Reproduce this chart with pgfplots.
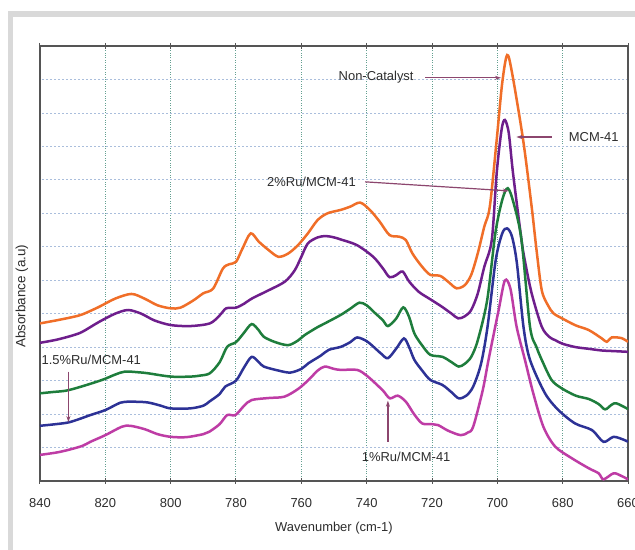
\documentclass[border=0pt]{standalone}
\usepackage{fontspec}
\setmainfont{Liberation Sans}
\usepackage{pgfplots}
\pgfplotsset{compat=1.18}
\usetikzlibrary{arrows.meta}
\definecolor{cOrange}{RGB}{240,110,40}
\definecolor{cPurple}{RGB}{110,30,140}
\definecolor{cGreen}{RGB}{30,125,60}
\definecolor{cBlue}{RGB}{45,50,150}
\definecolor{cMagenta}{RGB}{190,60,165}
\definecolor{cArrow}{RGB}{140,70,110}
\definecolor{cFrame}{RGB}{217,217,217}
\definecolor{cAxis}{RGB}{85,85,85}
\definecolor{cText}{RGB}{45,45,45}
\definecolor{cVGrid}{RGB}{100,160,145}
\definecolor{cHGrid}{RGB}{170,190,220}
\begin{document}
\begin{tikzpicture}[x=1bp,y=1bp]
\fill[cFrame] (-32,-69) rectangle (595,470);
\fill[white] (-27,-69) rectangle (595,464);
\begin{axis}[
  at={(0,0)}, anchor=south west,
  scale only axis, width=588bp, height=435bp,
  x dir=reverse, xmin=660, xmax=840, ymin=0, ymax=13,
  xtick={660,680,...,840}, ytick={1,2,...,12}, yticklabels={},
  ytick style={draw=none},
  xtick style={draw=cAxis, line width=1bp},
  tick align=center, major tick length=6bp,
  grid=major,
  x grid style={cVGrid, dotted, line width=1bp},
  y grid style={cHGrid, dash pattern=on 2bp off 2bp, line width=0.8bp},
  axis line style={cAxis, line width=1.6bp},
  /pgf/number format/assume math mode=true,
  xticklabel style={font=\fontsize{13}{15}\selectfont, text=cText, yshift=-11bp},
  xlabel={Wavenumber (cm-1)},
  ylabel={Absorbance (a.u)},
  xlabel style={font=\fontsize{13}{15}\selectfont, text=cText, at={(axis description cs:0.5,0)}, anchor=center, yshift=-47bp},
  ylabel style={font=\fontsize{13.5}{15}\selectfont, text=cText, at={([xshift=-18bp]axis description cs:0,0.425)}, anchor=center},
  clip=true,
  every axis plot/.append style={line width=2.5bp, smooth, tension=0.5, no markers},
]
% Non-Catalyst
\addplot[cOrange] coordinates {
(840,4.71)(835,4.80)(830,4.90)(827,4.98)(822,5.20)(817,5.45)(812,5.59)(808,5.45)(804,5.25)(800,5.16)(797,5.18)(793,5.40)(790,5.61)(787,5.75)(784,6.35)(782,6.48)(780,6.55)(778,6.95)(775.5,7.40)(773,7.15)(770,6.90)(767,6.70)(764,6.80)(761,7.05)(758,7.40)(755,7.80)(752,8.00)(748,8.10)(745,8.20)(742,8.32)(739,8.10)(736,7.75)(733,7.35)(730,7.30)(728,7.20)(726,6.80)(723,6.40)(720.5,6.16)(717.5,6.13)(715,5.95)(712.5,5.76)(710,5.85)(708,6.16)(706,6.80)(704,7.60)(702.3,8.20)(700.2,10.19)(698.5,11.9)(697,12.73)(695.5,12.2)(692.1,10.19)(689.5,8.20)(688,6.9)(686.4,5.7)(684.5,5.25)(682.8,5.01)(680,4.85)(676,4.65)(672,4.51)(668,4.26)(666.5,4.16)(665,4.29)(662,4.27)(660,4.16)};
% MCM-41
\addplot[cPurple] coordinates {
(840,4.13)(835,4.22)(830,4.35)(827,4.46)(822,4.75)(817,5.00)(813,5.11)(809,5.00)(805,4.80)(800,4.66)(794,4.63)(788,4.71)(785,4.95)(783,5.16)(780,5.18)(777.5,5.30)(775,5.46)(770,5.70)(765,5.96)(762,6.30)(760,6.70)(758,7.10)(755,7.28)(752.5,7.32)(750,7.28)(748,7.22)(743,7.05)(738,6.70)(735,6.35)(733,6.09)(731,6.15)(729,6.26)(727,5.96)(724,5.65)(720.5,5.43)(717,5.21)(714,5.00)(712,4.86)(710,4.92)(708,5.11)(706,5.60)(704,6.40)(701.7,7.20)(700.2,9.20)(698.7,10.5)(697.7,10.79)(696.5,10.4)(695.2,9.20)(692.6,7.20)(691.6,6.60)(689.5,5.61)(686.4,4.61)(684,4.30)(682.3,4.21)(680,4.10)(676,4.00)(672,3.95)(668,3.90)(664,3.88)(660,3.86)};
% 2%Ru/MCM-41
\addplot[cGreen] coordinates {
(840,2.62)(836,2.66)(832,2.70)(827.4,2.82)(821,3.02)(817,3.18)(814,3.27)(810,3.25)(807,3.22)(800,3.12)(794,3.12)(791,3.15)(788,3.22)(785,3.55)(782.7,4.01)(780,4.15)(777.7,4.41)(775.2,4.69)(773,4.50)(771.5,4.31)(768,4.15)(764,4.06)(761,4.20)(759,4.36)(755,4.60)(752.8,4.71)(748,4.96)(745,5.15)(742.2,5.33)(740,5.25)(737.9,5.06)(735,4.80)(733.5,4.63)(731,4.85)(728.8,5.19)(727,4.90)(725.4,4.41)(723,4.05)(720.5,3.77)(716.8,3.71)(714,3.55)(711.8,3.42)(710,3.50)(708,3.71)(706,4.20)(703.1,5.41)(700.6,7.41)(698.5,8.40)(696.8,8.75)(695,8.30)(692.6,7.20)(690,4.61)(688,4.0)(686.4,3.62)(683.4,3.02)(680.3,2.77)(676,2.55)(672,2.45)(669,2.30)(667,2.14)(665,2.28)(663.5,2.32)(660,2.15)};
% 1.5%Ru/MCM-41
\addplot[cBlue] coordinates {
(840,1.65)(835,1.70)(831.3,1.75)(828,1.85)(824.6,1.97)(820,2.12)(815.4,2.34)(812.4,2.37)(807.2,2.35)(803,2.25)(800,2.17)(794,2.17)(790,2.25)(788.2,2.37)(785,2.60)(783.3,2.82)(780,3.00)(777.5,3.40)(775.2,3.71)(773,3.55)(771.5,3.42)(767,3.30)(763.4,3.24)(760,3.35)(757.8,3.52)(754,3.75)(751.6,3.92)(747.9,4.01)(745,4.15)(742.9,4.29)(740,4.18)(737.9,4.01)(735.5,3.80)(733.5,3.67)(731,3.95)(728.6,4.26)(727,4.00)(725.4,3.62)(723,3.30)(720.5,3.02)(716.8,2.87)(714,2.65)(711.8,2.47)(709.5,2.55)(707.4,2.82)(705,3.50)(703,4.61)(700.5,6.6)(698.5,7.4)(697,7.55)(695.5,7.3)(694,6.5)(692,4.61)(690,3.62)(685.4,2.62)(681.3,2.12)(676.2,1.72)(671,1.52)(667.5,1.17)(664.4,1.32)(661,1.22)(660,1.17)};
% 1%Ru/MCM-41
\addplot[cMagenta] coordinates {
(840,0.78)(835,0.85)(831.3,0.93)(827,1.05)(824.6,1.17)(820,1.37)(815,1.62)(812.4,1.65)(808,1.55)(804,1.40)(800,1.32)(795.2,1.31)(790,1.40)(788.2,1.47)(785,1.70)(782.7,1.97)(780.2,1.97)(777.5,2.25)(775.2,2.42)(770,2.48)(765.2,2.52)(761,2.75)(757.8,3.02)(755,3.30)(752.8,3.42)(750,3.35)(747.9,3.32)(742.9,3.32)(740,3.15)(737.9,2.97)(735,2.70)(732.9,2.47)(730.5,2.55)(728,2.37)(725.5,2.00)(723,1.72)(720,1.70)(718.1,1.67)(715,1.50)(711.2,1.37)(709,1.45)(707.4,1.62)(704.5,2.70)(702.7,3.62)(699.6,5.11)(697.7,5.99)(696,5.75)(694.1,4.61)(691.5,3.6)(689,2.62)(685.9,1.62)(682.3,1.03)(677.2,0.68)(672,0.38)(669,0.23)(667.5,0.05)(664.4,0.23)(662,0.15)(660,0.05)};
% annotations
\begin{scope}[every node/.style={font=\fontsize{13}{15}\selectfont, text=cText}]
\node at (axis cs:737.1,12.07) {Non-Catalyst};
\draw[cArrow, line width=1.2bp, -{Stealth[length=6bp,width=4bp]}] (axis cs:722.1,12.05) -- (axis cs:698.9,12.05);
\node at (axis cs:670.5,10.28) {MCM-41};
\draw[cArrow, line width=1.2bp, -{Stealth[length=6bp,width=4bp]}] (axis cs:683.4,10.28) -- (axis cs:694.2,10.28);
\node at (axis cs:756.9,8.95) {2\%Ru/MCM-41};
\draw[cArrow, line width=1.2bp, -{Stealth[length=6bp,width=4bp]}] (axis cs:740.5,8.94) -- (axis cs:696.5,8.67);
\node at (axis cs:824.3,3.62) {1.5\%Ru/MCM-41};
\draw[cArrow, line width=1.2bp, -{Stealth[length=6bp,width=4bp]}] (axis cs:831.3,3.27) -- (axis cs:831.3,1.76);
\node at (axis cs:727.9,0.73) {1\%Ru/MCM-41};
\draw[cArrow, line width=1.2bp, -{Stealth[length=6bp,width=4bp]}] (axis cs:733.5,1.17) -- (axis cs:733.5,2.40);
\end{scope}
\end{axis}
\pgfresetboundingbox
\path (-40,-69) rectangle (595,481);
\end{tikzpicture}
\end{document}
